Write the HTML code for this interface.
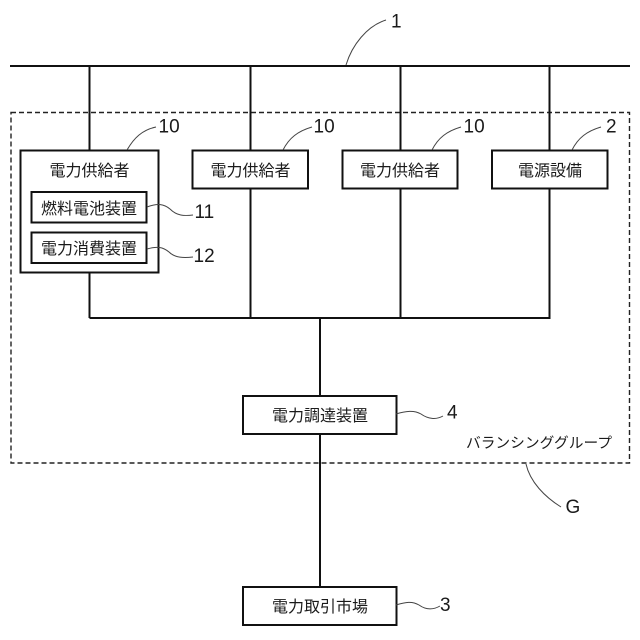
<!DOCTYPE html>
<html>
<head>
<meta charset="utf-8">
<style>
html,body{margin:0;padding:0;background:#fff;}
svg{display:block;}
text{font-family:"Liberation Sans","Noto Sans CJK JP",sans-serif;fill:#1a1a1a;}
.j{font-size:16px;text-anchor:middle;}
.n{font-size:19px;}
.b{fill:#fff;stroke:#111;stroke-width:2;}
.l{stroke:#111;stroke-width:2;fill:none;}
.c{stroke:#444;stroke-width:1;fill:none;}
</style>
</head>
<body>
<svg width="640" height="640" viewBox="0 0 640 640" xmlns="http://www.w3.org/2000/svg">
<rect width="640" height="640" fill="#fff"/>
<!-- dashed group -->
<rect x="11" y="112.5" width="618.5" height="350.5" fill="none" stroke="#222" stroke-width="1.4" stroke-dasharray="5 3"/>
<!-- bus lines -->
<path class="l" d="M10 66H630"/>
<path class="l" d="M89.5 66V318M250.5 66V318M400.5 66V318M549.5 66V318M89.5 318H550.5M320 318V587"/>
<!-- boxes -->
<rect class="b" x="20.5" y="150.5" width="138" height="122"/>
<rect class="b" x="31.5" y="192" width="115" height="30.5"/>
<rect class="b" x="31.5" y="232.5" width="115" height="30.5"/>
<rect class="b" x="192.5" y="150.5" width="115.5" height="38"/>
<rect class="b" x="342.5" y="150.5" width="115" height="38"/>
<rect class="b" x="492" y="150.5" width="115.5" height="38"/>
<rect class="b" x="243" y="396" width="153.5" height="38"/>
<rect class="b" x="243" y="587" width="153.5" height="38"/>
<!-- box text -->
<text class="j" x="89.5" y="176">電力供給者</text>
<text class="j" x="89" y="214">燃料電池装置</text>
<text class="j" x="89" y="254">電力消費装置</text>
<text class="j" x="250.5" y="176">電力供給者</text>
<text class="j" x="400" y="176">電力供給者</text>
<text class="j" x="550" y="176">電源設備</text>
<text class="j" x="320" y="421">電力調達装置</text>
<text class="j" x="320" y="612">電力取引市場</text>
<text x="466" y="448" font-size="14.5" textLength="146" lengthAdjust="spacingAndGlyphs">バランシンググループ</text>
<!-- leader curves -->
<path class="c" d="M346 65C352 45 367 26 386 20"/>
<path class="c" d="M127 150C134 138 142 130 156 127"/>
<path class="c" d="M283 150C289 138 298 131 312 127"/>
<path class="c" d="M432 150C438 138 447 131 461 127"/>
<path class="c" d="M572 150C578 138 587 131 601 127"/>
<path class="c" d="M147 207C158 203 164 204 170 209C177 216 184 216 193 215"/>
<path class="c" d="M147 249C157 246 163 247 169 252C175 258 184 258 193 257"/>
<path class="c" d="M396 414C406 411 414 410 421 414C428 419 436 420 443 416"/>
<path class="c" d="M396 605C406 602 412 601 419 605C426 610 433 610 440 606"/>
<path class="c" d="M526 464C530 482 545 497 561 507"/>
<!-- number labels -->
<text class="n" x="391" y="27.5">1</text>
<text class="n" x="158.5" y="132.5">10</text>
<text class="n" x="313.5" y="132.5">10</text>
<text class="n" x="463.5" y="132.5">10</text>
<text class="n" x="606" y="132.5">2</text>
<text class="n" x="194.5" y="218">11</text>
<text class="n" x="193.5" y="262">12</text>
<text class="n" x="447" y="418.5">4</text>
<text class="n" x="440" y="611">3</text>
<text class="n" x="565.5" y="513">G</text>
</svg>
</body>
</html>
